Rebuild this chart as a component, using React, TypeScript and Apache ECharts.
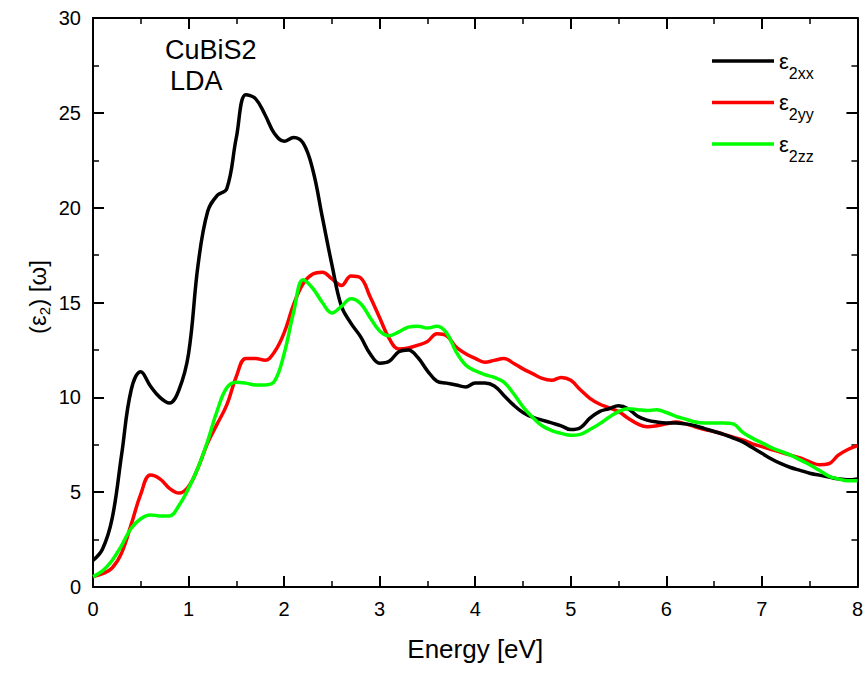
import React, { useEffect, useRef } from 'react';
import * as echarts from 'echarts';

// Energy grid [eV]
const energy = [
  0.0, 0.1, 0.2, 0.3, 0.4, 0.5, 0.6, 0.7, 0.8, 0.9,
  1.0, 1.1, 1.2, 1.3, 1.4, 1.5, 1.6, 1.7, 1.8, 1.9,
  2.0, 2.1, 2.2, 2.3, 2.4, 2.5, 2.6, 2.7, 2.8, 2.9,
  3.0, 3.1, 3.2, 3.3, 3.4, 3.5, 3.6, 3.7, 3.8, 3.9,
  4.0, 4.1, 4.2, 4.3, 4.4, 4.5, 4.6, 4.7, 4.8, 4.9,
  5.0, 5.1, 5.2, 5.3, 5.4, 5.5, 5.6, 5.7, 5.8, 5.9,
  6.0, 6.1, 6.2, 6.3, 6.4, 6.5, 6.6, 6.7, 6.8, 6.9,
  7.0, 7.1, 7.2, 7.3, 7.4, 7.5, 7.6, 7.7, 7.8, 7.9,
  8.0,
];

const eps2xx = [
  1.4, 2.0, 3.6, 7.0, 10.4, 11.35, 10.6, 10.0, 9.7, 10.4,
  12.3, 17.0, 19.8, 20.65, 21.0, 23.7, 25.95, 25.75, 24.9, 23.9,
  23.5, 23.7, 23.4, 22.0, 19.5, 17.0, 14.8, 13.9, 13.2, 12.3,
  11.8, 11.9, 12.4, 12.5, 12.1, 11.4, 10.85, 10.75, 10.65, 10.55,
  10.75, 10.75, 10.6, 10.1, 9.6, 9.2, 8.95, 8.8, 8.65, 8.5,
  8.3, 8.4, 8.9, 9.25, 9.4, 9.55, 9.4, 9.0, 8.8, 8.7,
  8.65, 8.65, 8.6, 8.5, 8.35, 8.2, 8.05, 7.85, 7.65, 7.35,
  7.05, 6.75, 6.5, 6.3, 6.15, 6.0, 5.9, 5.8, 5.7, 5.65,
  5.7,
];

const eps2yy = [
  0.55, 0.7, 1.0, 1.8, 3.3, 4.9, 5.9, 5.7, 5.2, 4.95,
  5.3, 6.3, 7.6, 8.6, 9.6, 11.1, 12.05, 12.05, 11.95, 12.4,
  13.4, 14.9, 16.0, 16.5, 16.6, 16.25, 15.9, 16.4, 16.3, 15.3,
  14.2, 13.1, 12.55, 12.6, 12.75, 12.95, 13.35, 13.25, 12.65, 12.3,
  12.05, 11.85, 11.95, 12.05, 11.8, 11.5, 11.25, 11.0, 10.9, 11.05,
  10.9, 10.4, 9.95, 9.65, 9.45, 9.25, 8.9, 8.6, 8.45, 8.5,
  8.6, 8.7, 8.6, 8.45, 8.3, 8.2, 8.05, 7.9, 7.75, 7.55,
  7.4, 7.25, 7.1, 6.95, 6.8, 6.6, 6.45, 6.5, 6.95, 7.25,
  7.45,
];

const eps2zz = [
  0.55, 0.85, 1.4, 2.2, 3.1, 3.6, 3.8, 3.75, 3.75, 4.3,
  5.2, 6.3, 7.7, 9.3, 10.5, 10.8, 10.75, 10.65, 10.65, 10.85,
  12.3, 14.5, 16.2, 15.75, 15.0, 14.45, 14.8, 15.2, 14.95, 14.2,
  13.5, 13.25, 13.45, 13.7, 13.75, 13.65, 13.75, 13.4, 12.4, 11.7,
  11.4, 11.2, 11.05, 10.8, 10.2, 9.5, 8.95, 8.5, 8.25, 8.1,
  8.0, 8.05, 8.3, 8.6, 8.95, 9.25, 9.4, 9.35, 9.3, 9.35,
  9.2, 9.0, 8.85, 8.7, 8.65, 8.65, 8.65, 8.6, 8.15, 7.85,
  7.6, 7.35, 7.15, 6.95, 6.7, 6.45, 6.15, 5.85, 5.7, 5.6,
  5.6,
];

const seriesNames = ['xx', 'yy', 'zz'];
const seriesColors = ['#000000', '#ff0000', '#00ff00'];
const titleLines = ['CuBiS2', 'LDA'];
const yTitleParts = ['(ε', '2', ') [ω]'];
const xAxisTitle = 'Energy [eV]';

const FONT = "'Liberation Sans', Arial, Helvetica, sans-serif";

function pairs(ys: number[]) {
  return energy.map((e, i) => [e, ys[i]]);
}

function measure(text: string, size: number): number {
  try {
    const ctx = document.createElement('canvas').getContext('2d');
    if (ctx) {
      ctx.font = `${size}px ${FONT}`;
      return ctx.measureText(text).width;
    }
  } catch (e) {
    /* ignore */
  }
  return text.length * size * 0.5;
}

export default function App() {
  const ref = useRef<HTMLDivElement>(null);

  useEffect(() => {
    if (!ref.current) return;
    const chart = echarts.init(ref.current, undefined, { renderer: 'svg' });

    const axisLine = { show: true, onZero: false, lineStyle: { color: '#000', width: 2 } };
    const axisTick = { show: true, inside: true, length: 11, lineStyle: { color: '#000', width: 2 } };
    const minorTick = { show: true, splitNumber: 2, length: 6, lineStyle: { color: '#000', width: 1.5 } };

    const xBase = {
      type: 'value',
      min: 0,
      max: 8,
      interval: 1,
      axisLine,
      axisTick,
      minorTick,
      splitLine: { show: false },
      minorSplitLine: { show: false },
    };
    const yBase = {
      type: 'value',
      min: 0,
      max: 30,
      interval: 5,
      axisLine,
      axisTick,
      minorTick,
      splitLine: { show: false },
      minorSplitLine: { show: false },
    };

    const datasets = [eps2xx, eps2yy, eps2zz];
    const zs = [3, 2, 4];

    // y-axis title built from three plain texts inside a rotated group
    const big = 24;
    const small = 15;
    const w0 = measure(yTitleParts[0], big);
    const w1 = measure(yTitleParts[1], small);
    const w2 = measure(yTitleParts[2], big);
    const total = w0 + w1 + w2;
    const start = -total / 2;

    const option: any = {
      animation: false,
      backgroundColor: '#ffffff',
      grid: { left: 93, right: 8, top: 18, bottom: 86, containLabel: false },
      legend: {
        orient: 'vertical',
        left: 707,
        top: 45,
        icon: 'rect',
        itemWidth: 62,
        itemHeight: 3.5,
        itemGap: 10.5,
        data: seriesNames,
        formatter: (name: string) => `{e|ε}{s|2${name}}`,
        textStyle: {
          color: '#000',
          fontFamily: FONT,
          rich: {
            e: { fontSize: 22, lineHeight: 40, fontFamily: FONT, color: '#000', verticalAlign: 'middle' },
            s: { fontSize: 16, lineHeight: 16, fontFamily: FONT, color: '#000', verticalAlign: 'bottom' },
          },
        },
      },
      xAxis: [
        {
          ...xBase,
          position: 'bottom',
          axisLabel: { show: true, color: '#000', fontSize: 20, fontFamily: FONT, margin: 12 },
          name: xAxisTitle,
          nameLocation: 'middle',
          nameGap: 49,
          nameTextStyle: { color: '#000', fontSize: 26, fontFamily: FONT },
        },
        {
          ...xBase,
          position: 'top',
          axisLabel: { show: false },
        },
      ],
      yAxis: [
        {
          ...yBase,
          position: 'left',
          axisLabel: { show: true, color: '#000', fontSize: 20, fontFamily: FONT, margin: 12 },
        },
        {
          ...yBase,
          position: 'right',
          axisLabel: { show: false },
        },
      ],
      series: seriesNames.map((name, i) => ({
        name,
        type: 'line',
        xAxisIndex: 0,
        yAxisIndex: 0,
        data: pairs(datasets[i]),
        smooth: 0.4,
        showSymbol: false,
        symbol: 'none',
        z: zs[i],
        lineStyle: { color: seriesColors[i], width: 3.5 },
        itemStyle: { color: seriesColors[i] },
      })),
      graphic: [
        {
          type: 'text',
          left: 165,
          top: 36,
          style: { text: titleLines[0], fontSize: 27, fontFamily: FONT, fill: '#000' },
        },
        {
          type: 'text',
          left: 170,
          top: 67,
          style: { text: titleLines[1], fontSize: 27, fontFamily: FONT, fill: '#000' },
        },
        {
          type: 'group',
          x: 37,
          y: 297,
          rotation: Math.PI / 2,
          children: [
            {
              type: 'text',
              x: start,
              y: 0,
              style: { text: yTitleParts[0], fontSize: big, fontFamily: FONT, fill: '#000', align: 'left', verticalAlign: 'middle' },
            },
            {
              type: 'text',
              x: start + w0,
              y: 7,
              style: { text: yTitleParts[1], fontSize: small, fontFamily: FONT, fill: '#000', align: 'left', verticalAlign: 'middle' },
            },
            {
              type: 'text',
              x: start + w0 + w1,
              y: 0,
              style: { text: yTitleParts[2], fontSize: big, fontFamily: FONT, fill: '#000', align: 'left', verticalAlign: 'middle' },
            },
          ],
        },
      ],
    };

    chart.setOption(option);
    return () => chart.dispose();
  }, []);

  return (
    <div
      ref={ref}
      style={{ position: 'absolute', left: 0, top: 0, width: 866, height: 673, background: '#fff' }}
    />
  );
}
